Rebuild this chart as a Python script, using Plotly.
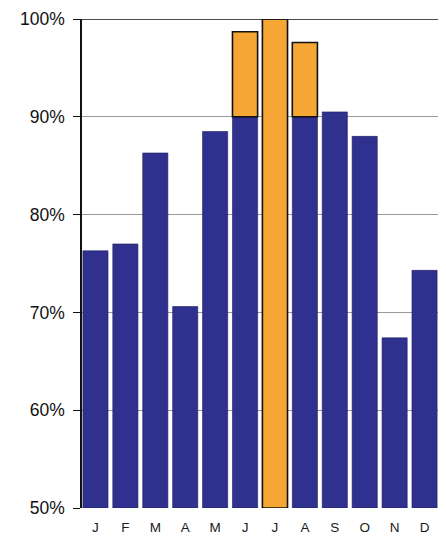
import plotly.graph_objects as go

months = ["J", "F", "M", "A", "M", "J", "J", "A", "S", "O", "N", "D"]
blue_top = [76.3, 77.0, 86.3, 70.6, 88.5, 90.0, None, 90.0, 90.5, 88.0, 67.4, 74.3]
orange_base = [None, None, None, None, None, 90.0, 50.0, 90.0, None, None, None, None]
orange_top = [None, None, None, None, None, 98.7, 100.0, 97.6, None, None, None, None]

x = list(range(len(months)))
BLUE = "#30318f"
ORANGE = "#f6a635"

fig = go.Figure()
fig.add_trace(go.Bar(
    x=x,
    y=[(v - 50) if v is not None else None for v in blue_top],
    base=50,
    marker=dict(color=BLUE, line=dict(color="#1c1d5e", width=0.6)),
    width=0.84,
    showlegend=False,
))
fig.add_trace(go.Bar(
    x=x,
    y=[(t - b) if t is not None else None for t, b in zip(orange_top, orange_base)],
    base=orange_base,
    marker=dict(color=ORANGE, line=dict(color="#111111", width=1.6)),
    width=0.84,
    showlegend=False,
))

# page body has an 8px margin, so the figure is sized/offset to compensate
fig.update_layout(
    width=438, height=532,
    margin=dict(l=74, r=5, t=11, b=32),
    paper_bgcolor="white", plot_bgcolor="white",
    barmode="overlay",
    font=dict(family="Arial, Liberation Sans, sans-serif", color="#111111"),
    xaxis=dict(
        tickmode="array", tickvals=x, ticktext=months,
        range=[-0.45, 11.55],
        showgrid=False, zeroline=False, showline=False,
        ticks="", tickfont=dict(size=13.5, color="#1a1a1a"),
        ticklabelstandoff=9, automargin=False,
    ),
    yaxis=dict(
        range=[50, 100],
        tickvals=[50, 60, 70, 80, 90, 100],
        ticktext=["50%", "60%", "70%", "80%", "90%", "100%"],
        showgrid=True, gridcolor="#9a9a9a", gridwidth=1,
        zeroline=False,
        showline=True, linecolor="#111111", linewidth=1.5,
        ticks="outside", ticklen=7, tickcolor="#111111",
        tickfont=dict(size=17.5),
        ticklabelstandoff=5, automargin=False,
    ),
    shapes=[
        dict(type="line", xref="paper", yref="y", x0=0, x1=1, y0=100, y1=100,
             line=dict(color="#111111", width=1.5)),
        dict(type="line", xref="paper", yref="y", x0=1, x1=1, y0=90, y1=100,
             line=dict(color="#333333", width=1.2)),
    ],
)

fig.write_html("out.html")
